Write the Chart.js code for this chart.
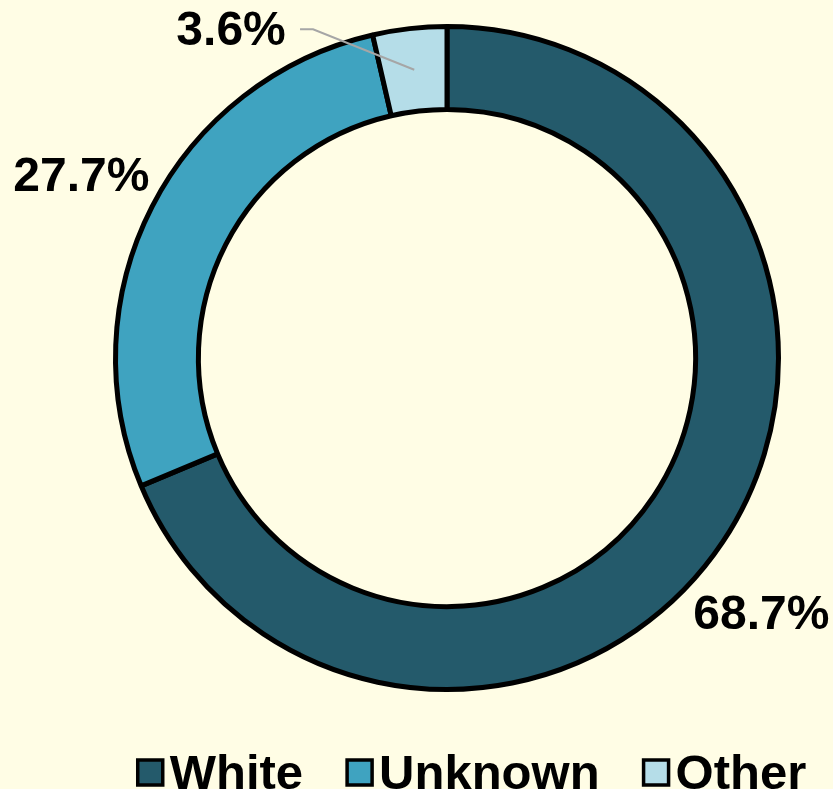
<!DOCTYPE html>
<html>
<head>
<meta charset="utf-8">
<script src="https://cdn.jsdelivr.net/npm/chart.js@4.4.1/dist/chart.umd.min.js"></script>
<style>
  html, body { margin: 0; padding: 0; background: #FFFDE5; }
  #wrap { width: 833px; height: 789px; }
</style>
</head>
<body>
<div id="wrap"><canvas id="donut"></canvas></div>
<script>
const categories = ['White', 'Unknown', 'Other'];
const shares = [68.7, 27.7, 3.6];

const sliceColors = ['#245A6B', '#3FA3C0', '#B5DDE8'];
const FONT = '"Liberation Sans", Arial, sans-serif';

// where each % label sits: angle shift (deg) from slice middle, distance past the outer edge
const labelSpots = [
    { dAngle: 5.5, dR: 74, leader: false },
    { dAngle: -0.7, dR: 77, leader: false },
    { dAngle: -26.9, dR: 61, leader: true }
];

const pctLabels = {
    id: 'pctLabels',
    afterDatasetsDraw(chart) {
        const ctx = chart.ctx;
        const arcs = chart.getDatasetMeta(0).data;
        ctx.save();
        ctx.font = 'bold 48px ' + FONT;
        ctx.fillStyle = '#000';
        ctx.textAlign = 'center';
        ctx.textBaseline = 'middle';
        arcs.forEach((arc, i) => {
            const p = arc.getProps(['x', 'y', 'startAngle', 'endAngle', 'outerRadius', 'innerRadius'], true);
            const mid = (p.startAngle + p.endAngle) / 2;
            const spot = labelSpots[i];
            const a = mid + spot.dAngle * Math.PI / 180;
            const r = p.outerRadius + spot.dR;
            const lx = p.x + Math.cos(a) * r;
            const ly = p.y + Math.sin(a) * r;
            if (spot.leader) {
                const rm = (p.outerRadius + p.innerRadius) / 2;
                ctx.beginPath();
                ctx.strokeStyle = '#A6A6A6';
                ctx.lineWidth = 2;
                ctx.moveTo(lx + 69, ly - 1);
                ctx.lineTo(lx + 82, ly - 1);
                ctx.lineTo(p.x + Math.cos(mid) * rm, p.y + Math.sin(mid) * rm);
                ctx.stroke();
            }
            ctx.fillText(shares[i].toFixed(1) + '%', lx, ly + 2);
        });
        ctx.restore();
    }
};

// legend drawn by hand so the box/text gap can be tight
const bottomLegend = {
    id: 'bottomLegend',
    afterDraw(chart) {
        const ctx = chart.ctx;
        const box = 25, gap = 7, spacing = 44;
        ctx.save();
        ctx.font = 'bold 49px ' + FONT;
        const widths = categories.map(c => ctx.measureText(c).width);
        const total = widths.reduce((s, w) => s + box + gap + w, 0) + spacing * (categories.length - 1);
        let x = 472 - total / 2;
        const baseline = 789;
        categories.forEach((c, i) => {
            ctx.fillStyle = sliceColors[i];
            ctx.strokeStyle = '#000';
            ctx.lineWidth = 3.5;
            ctx.fillRect(x, 760, box, box);
            ctx.strokeRect(x, 760, box, box);
            ctx.fillStyle = '#000';
            ctx.textAlign = 'left';
            ctx.textBaseline = 'alphabetic';
            ctx.fillText(c, x + box + gap, baseline);
            x += box + gap + widths[i] + spacing;
        });
        ctx.restore();
    }
};

new Chart(document.getElementById('donut'), {
    type: 'doughnut',
    data: {
        labels: categories,
        datasets: [{
            data: shares,
            backgroundColor: sliceColors,
            borderColor: '#000',
            borderWidth: 5
        }]
    },
    options: {
        responsive: true,
        maintainAspectRatio: false,
        animation: false,
        cutout: '75%',
        layout: { padding: { top: 24, bottom: 97, left: 61, right: 0 } },
        plugins: {
            legend: { display: false },
            tooltip: { enabled: false }
        }
    },
    plugins: [pctLabels, bottomLegend]
});
</script>
</body>
</html>
